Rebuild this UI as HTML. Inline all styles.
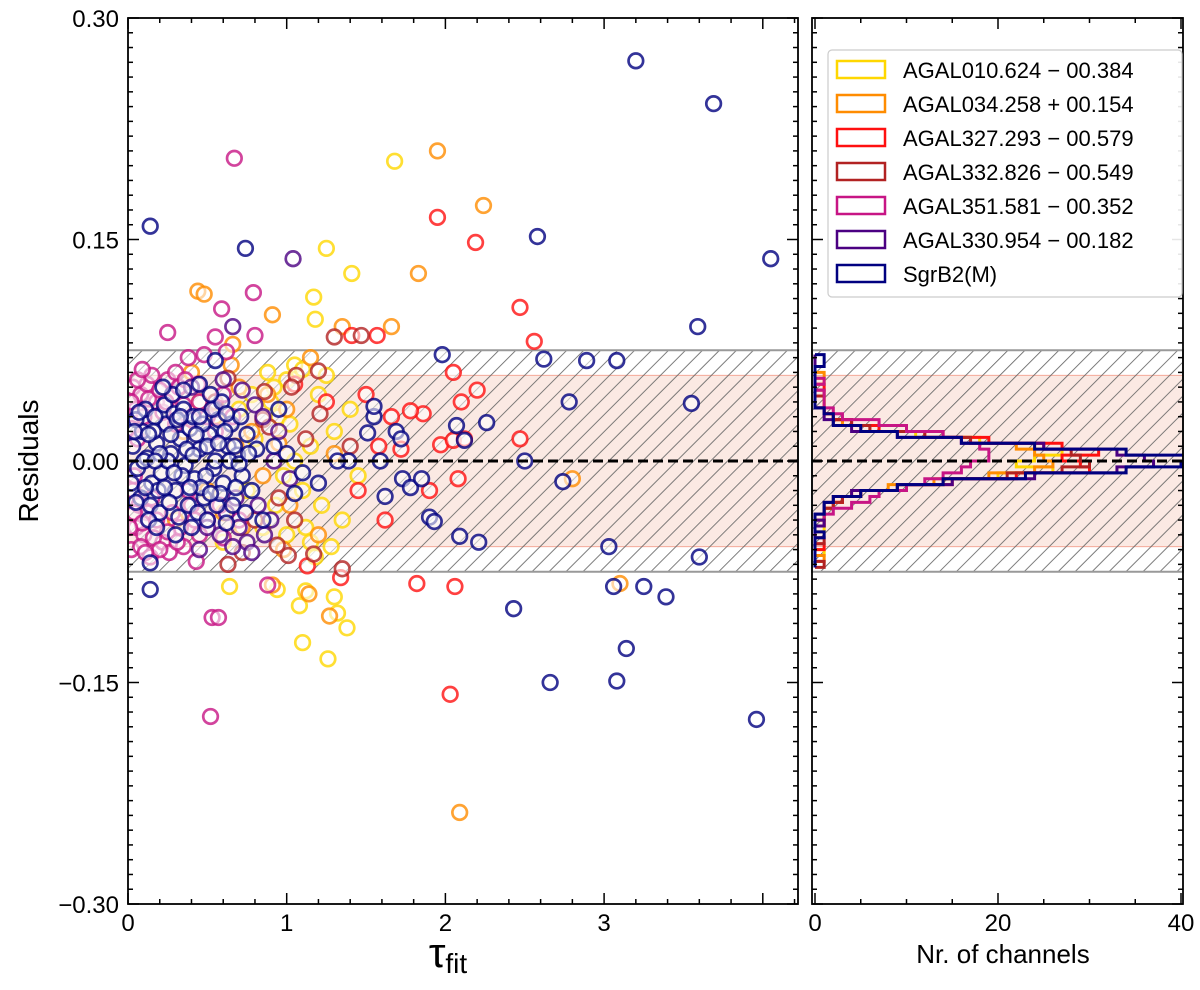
<!DOCTYPE html>
<html><head><meta charset="utf-8">
<style>
html,body{margin:0;padding:0;background:#fff;}
svg{display:block;font-family:"Liberation Sans","DejaVu Sans",sans-serif;}
</style></head>
<body>
<svg id="chart" width="1200" height="990" viewBox="0 0 1200 990">
<defs>
<pattern id="hatch" patternUnits="userSpaceOnUse" width="12" height="12" patternTransform="rotate(45)">
<line x1="0" y1="0" x2="0" y2="12" stroke="#666" stroke-width="1.7"/>
</pattern>
<clipPath id="clipL"><rect x="128" y="18" width="670" height="886"/></clipPath>
<clipPath id="clipR"><rect x="812" y="18" width="371" height="886"/></clipPath>
</defs>
<g id="bands"></g>
<g id="scatter" clip-path="url(#clipL)"></g>
<g id="hist" clip-path="url(#clipR)"></g>
<g id="axes"></g>
</svg>
<script>
const seriesNames = ["AGAL010.624 \u2212 00.384","AGAL034.258 + 00.154","AGAL327.293 \u2212 00.579","AGAL332.826 \u2212 00.549","AGAL351.581 \u2212 00.352","AGAL330.954 \u2212 00.182","SgrB2(M)"];
const seriesColors = ["#ffd700","#ff8c00","#ff1010","#b22222","#c71585","#4b0082","#000080"];
const yTicks = [-0.30,-0.15,0.00,0.15,0.30];
const yTickLabels = ["\u22120.30","\u22120.15","0.00","0.15","0.30"];
const xTicks = [0,1,2,3];
const hTicks = [0,20,40];
const hatchBand = 0.075;
const pinkBand = 0.058;

const yellowPts = [[1.68,0.203],[1.25,0.144],[1.41,0.127],[1.17,0.111],[1.18,0.096],[0.64,-0.085],[1.12,-0.088],[1.30,-0.092],[1.08,-0.098],[1.32,-0.103],[1.38,-0.113],[1.10,-0.123],[1.26,-0.134],[0.94,-0.087],
[1.00,0.055],[1.05,0.065],[1.10,0.062],[0.90,0.040],[0.95,0.030],[1.20,0.045],[1.30,0.020],[1.15,0.010],[1.05,0.000],[0.98,-0.010],[1.10,-0.020],[1.22,-0.030],[0.85,-0.045],[1.00,-0.050],[1.35,-0.040],[1.40,0.035],[0.80,0.015],[0.75,-0.020],[1.28,-0.058],[1.18,-0.065],[0.70,0.035],[1.45,-0.010],[0.60,-0.055],[0.92,0.050],[1.25,0.058],[1.12,-0.045],[0.88,0.060],[1.02,0.025],[0.93,-0.030],[1.15,-0.055],[0.78,0.045]];
const orangePts = [[1.95,0.210],[2.24,0.173],[1.83,0.127],[1.66,0.091],[0.44,0.115],[0.48,0.113],[0.91,0.099],[1.35,0.091],[0.66,0.079],[3.10,-0.083],[2.09,-0.238],[2.80,-0.012],[0.91,-0.084],[1.27,-0.105],[1.14,-0.090],
[0.45,0.040],[0.55,0.030],[0.70,0.050],[0.78,0.020],[0.85,-0.010],[0.95,0.012],[1.02,-0.030],[0.60,-0.035],[0.88,0.045],[1.15,0.070],[0.50,-0.020],[0.72,-0.045],[1.30,0.005],[1.00,0.035],[0.40,0.060],[0.65,0.065],[1.20,-0.050],[0.98,-0.060],[0.35,0.020],[0.30,-0.040],[0.68,0.010]];
const redPts = [[1.95,0.165],[1.41,0.085],[2.19,0.148],[2.47,0.104],[2.56,0.081],[1.57,0.085],[1.82,-0.083],[2.06,-0.085],[2.03,-0.158],[1.34,-0.079],[1.13,-0.071],[2.05,0.060],
[1.86,0.032],[1.66,0.030],[1.97,0.011],[2.05,0.014],[1.72,0.008],[2.47,0.015],[1.78,0.034],[2.08,-0.012],[1.90,-0.020],[2.10,0.040],[1.50,0.045],[1.62,-0.040],[2.20,0.048],[1.25,0.040],[1.05,0.052],[1.45,-0.020],[2.12,0.015],[1.58,0.010]];
const brownPts = [[1.30,0.084],[1.47,0.085],[1.35,-0.073],[0.63,-0.070],[0.63,0.056],[1.20,0.061],[1.06,0.058],[1.03,0.050],[0.86,0.047],[0.85,0.028],[0.89,0.023],[1.21,0.032],[1.17,-0.063],[0.72,-0.062],[1.01,-0.064],[0.94,-0.057],[1.12,0.015],[0.95,-0.025],[0.80,-0.040],[1.40,0.010],[0.55,0.040],[1.05,-0.040]];
const magentaPts = [[0.67,0.205],[0.79,0.114],[0.59,0.103],[0.55,0.084],[0.80,0.085],[0.25,0.087],[0.53,-0.106],[0.57,-0.106],[0.52,-0.173],[0.88,-0.084],[0.43,-0.068],[0.38,0.070],[0.48,0.072],[0.62,0.074],
[0.03,0.050],[0.08,0.045],[0.12,0.052],[0.18,0.040],[0.05,0.035],[0.10,0.030],[0.22,0.033],[0.28,0.045],[0.15,0.058],[0.35,0.038],[0.40,0.028],[0.02,0.022],[0.30,0.025],[0.45,0.040],[0.50,0.030],[0.55,0.020],[0.25,0.055],
[0.03,-0.020],[0.07,-0.030],[0.12,-0.035],[0.05,-0.045],[0.10,-0.050],[0.18,-0.040],[0.22,-0.055],[0.28,-0.035],[0.33,-0.045],[0.15,-0.025],[0.40,-0.030],[0.45,-0.050],[0.02,-0.060],[0.08,-0.058],[0.35,-0.058],[0.50,-0.040],[0.58,-0.030],[0.26,-0.062],[0.14,-0.065],[0.60,-0.052],[0.38,-0.020],[0.30,0.060],[0.60,0.045],[0.66,0.030],[0.70,-0.040],
[0.02,0.040],[0.06,0.055],[0.09,0.062],[0.13,0.042],[0.20,0.048],[0.24,0.040],[0.32,0.050],[0.04,-0.035],[0.09,-0.042],[0.16,-0.052],[0.20,-0.060],[0.25,-0.048],[0.31,-0.055],[0.01,-0.045],[0.11,-0.062],[0.42,-0.040],[0.36,0.055],[0.44,0.052],[0.06,0.015],[0.04,-0.010]];
const purplePts = [[1.04,0.137],[0.66,0.091],[0.72,0.048],[0.80,0.038],[0.85,0.030],[0.55,0.035],[0.62,-0.035],[0.70,-0.045],[0.75,-0.055],[0.58,-0.050],[0.66,-0.058],[0.82,-0.030],[0.90,-0.040],[0.50,-0.045],[0.68,-0.025],[0.95,0.020],[0.45,-0.060],[0.78,-0.062],[1.02,-0.012],[0.60,0.055],[0.40,0.050],[0.86,-0.050],[0.92,0.000]];
const sgrb2Pts = [[3.20,0.271],[3.69,0.242],[4.05,0.137],[2.58,0.152],[0.14,0.159],[3.59,0.091],[0.74,0.144],[3.08,0.068],[2.89,0.068],[2.62,0.069],[1.98,0.072],[2.78,0.040],[2.26,0.026],[3.55,0.039],[2.74,-0.014],[2.50,0.000],[3.03,-0.058],[3.60,-0.065],[2.09,-0.051],[2.21,-0.055],[1.90,-0.038],[1.93,-0.041],[2.43,-0.100],[3.06,-0.085],[3.25,-0.085],[3.39,-0.092],[3.14,-0.127],[2.66,-0.150],[3.08,-0.149],[3.96,-0.175],[0.14,-0.087],[0.14,-0.069],
[1.69,0.020],[1.72,0.015],[1.55,0.030],[1.55,0.037],[1.59,0.000],[1.73,-0.012],[1.78,-0.018],[1.62,-0.024],[1.39,0.000],[1.32,0.000],[1.85,-0.012],[2.12,0.014],[2.07,0.024],[1.51,0.019],[0.55,0.068],[0.45,0.052],[1.10,-0.008],[1.20,-0.015],[1.00,0.005],[0.95,0.035],[1.05,-0.022],[0.85,-0.040],[0.92,0.010],
[0.03,0.010],[0.06,-0.005],[0.09,0.020],[0.12,0.002],[0.15,-0.015],[0.18,0.012],[0.21,-0.008],[0.24,0.025],[0.27,0.005],[0.30,-0.020],[0.33,0.015],[0.36,-0.003],[0.39,0.022],[0.42,-0.012],[0.45,0.008],[0.48,-0.025],[0.51,0.018],[0.54,-0.005],[0.57,0.028],[0.60,-0.015],[0.63,0.010],[0.66,-0.030],[0.69,0.004],[0.72,-0.010],[0.75,0.018],[0.78,-0.020],[0.81,0.008],
[0.05,0.028],[0.08,-0.025],[0.11,0.035],[0.14,-0.030],[0.17,0.030],[0.20,-0.035],[0.23,0.038],[0.26,-0.028],[0.29,0.032],[0.32,-0.038],[0.35,0.035],[0.38,-0.030],[0.41,0.030],[0.44,-0.035],[0.47,0.025],[0.50,-0.040],[0.53,0.035],[0.56,-0.030],[0.59,0.040],[0.62,-0.042],[0.65,0.025],[0.68,-0.018],[0.71,0.030],[0.74,-0.035],
[0.02,-0.015],[0.10,0.000],[0.16,0.020],[0.19,-0.020],[0.25,0.000],[0.31,0.028],[0.37,0.008],[0.43,0.018],[0.49,-0.010],[0.55,0.000],[0.61,0.020],[0.67,0.010],[0.13,-0.040],[0.28,0.045],[0.40,-0.045],[0.52,0.045],[0.35,0.048],[0.22,0.050],[0.30,-0.050],[0.18,-0.045],
[0.04,0.020],[0.07,0.033],[0.13,0.018],[0.20,0.005],[0.23,-0.018],[0.27,0.018],[0.34,-0.010],[0.41,0.004],[0.46,-0.018],[0.50,0.010],[0.58,-0.022],[0.64,0.000],[0.70,-0.002],[0.76,0.005],[0.05,-0.028],[0.11,-0.018],[0.17,0.000],[0.29,-0.008],[0.33,0.030],[0.39,-0.018],[0.45,0.030],[0.52,-0.022],[0.57,0.012],[0.62,0.032]];
const scatterSeries = [yellowPts,orangePts,redPts,brownPts,magentaPts,purplePts,sgrb2Pts];

const binCenters = [0.070,0.066,0.062,0.058,0.054,0.050,0.046,0.042,0.038,0.034,0.030,0.026,0.022,0.018,0.014,0.010,0.006,0.002,-0.002,-0.006,-0.010,-0.014,-0.018,-0.022,-0.026,-0.030,-0.034,-0.038,-0.042,-0.046,-0.050,-0.054,-0.058,-0.062,-0.066,-0.070];
const hYellow  = [0,0,0,0,1,0,0,1,1,1,2,3,7,11,18,24,27,24,22,26,20,14,9,5,2,2,1,1,0,1,0,0,0,1,0,0];
const hOrange  = [0,0,0,1,0,0,0,1,1,1,2,3,6,12,17,22,24,25,26,24,19,13,8,4,3,1,1,1,1,0,0,0,0,0,1,0];
const hRed     = [0,0,0,0,0,1,0,0,0,1,2,4,7,14,19,27,31,27,29,30,22,15,10,5,3,2,1,1,1,0,0,0,1,0,0,0];
const hBrown   = [0,0,0,0,0,0,1,0,0,1,2,4,6,12,17,25,28,29,30,27,21,14,9,5,3,2,1,1,0,0,0,1,0,0,0,1];
const hMagenta = [0,0,0,0,1,0,1,1,1,2,3,7,10,14,16,18,19,19,17,16,14,12,10,7,6,4,2,1,1,0,0,0,0,0,0,0];
const hPurple  = [0,0,0,0,0,0,0,0,0,1,1,2,4,9,16,25,33,36,37,33,24,15,9,4,2,1,1,0,1,0,0,0,0,0,0,0];
const hSgrb2   = [1,1,0,0,0,0,0,0,0,1,2,2,5,9,16,24,34,41,40,34,23,14,9,5,2,1,1,0,0,0,1,0,0,0,0,0];
const histSeries = [hYellow,hOrange,hRed,hBrown,hMagenta,hPurple,hSgrb2];

const NS="http://www.w3.org/2000/svg";
const L={x0:128,x1:798}, R={x0:812,x1:1183}, T=18, B=904;
const yS = v => 461 - v*(886/0.6);
const xS = v => 128 + v*158.7;
const hS = v => 815 + v*9.15;
function mk(tag,attrs,parent){const e=document.createElementNS(NS,tag);for(const k in attrs)e.setAttribute(k,attrs[k]);parent.appendChild(e);return e;}

const bands=document.getElementById('bands');
[[L.x0,L.x1],[R.x0,R.x1]].forEach(([a,b],i)=>{
  let r=mk('rect',{x:a,y:yS(pinkBand),width:b-a,height:yS(-pinkBand)-yS(pinkBand),fill:'#fbe9e3',stroke:'#f4a898','stroke-width':1},bands);
  
  
  let h=mk('rect',{x:a,y:yS(hatchBand),width:b-a,height:yS(-hatchBand)-yS(hatchBand),fill:'url(#hatch)',stroke:'#999','stroke-width':2},bands);
  
  
});

const sc=document.getElementById('scatter');
scatterSeries.forEach((pts,si)=>{
  const g=mk('g',{},sc);
  
  
  pts.forEach(p=>{
    const c=mk('circle',{cx:xS(p[0]),cy:yS(p[1]),r:7.3,fill:'rgba(255,255,255,0.55)',stroke:seriesColors[si],'stroke-width':2.7,'stroke-opacity':0.8},g);
    
    
  });
});

const hg=document.getElementById('hist');
const bw=0.004;
histSeries.forEach((cnt,si)=>{
  let d='M'+hS(0)+','+yS(binCenters[0]+bw/2);
  cnt.forEach((c,i)=>{
    const top=yS(binCenters[i]+bw/2), bot=yS(binCenters[i]-bw/2);
    d+=' L'+hS(c)+','+top+' L'+hS(c)+','+bot;
  });
  d+=' L'+hS(0)+','+yS(binCenters[binCenters.length-1]-bw/2);
  const p=mk('path',{d:d,fill:'none',stroke:seriesColors[si],'stroke-width':3},hg);
  
  
});

const ax=document.getElementById('axes');
[[L.x0,L.x1],[R.x0,R.x1]].forEach(([a,b])=>{
  const z=mk('line',{x1:a,x2:b,y1:yS(0),y2:yS(0),stroke:'#000','stroke-width':3,'stroke-dasharray':'10,5'},ax);
  
  
});
[[L.x0,L.x1],[R.x0,R.x1]].forEach(([a,b],i)=>{
  const f=mk('rect',{x:a,y:T,width:b-a,height:B-T,fill:'none',stroke:'#000','stroke-width':1.8},ax);
  
  
  for(let k=-30;k<=30;k++){
    const v=k/100, y=yS(v), major=(k%15===0), len=major?11:5;
    mk('line',{x1:a,x2:a+len,y1:y,y2:y,stroke:'#000','stroke-width':1.5},ax);
    mk('line',{x1:b,x2:b-len,y1:y,y2:y,stroke:'#000','stroke-width':1.5},ax);
  }
});
yTicks.forEach((v,i)=>{
  const t=mk('text',{x:119,y:yS(v)+9,'text-anchor':'end','font-size':24},ax);
  t.textContent=yTickLabels[i];
  
  
});
for(let k=0;k<=21;k++){const v=k/5,x=xS(v);if(x>L.x1)break;const len=(k%5===0)?11:5;
  mk('line',{x1:x,x2:x,y1:B,y2:B-len,stroke:'#000','stroke-width':1.5},ax);
  mk('line',{x1:x,x2:x,y1:T,y2:T+len,stroke:'#000','stroke-width':1.5},ax);}
xTicks.forEach(v=>{
  const t=mk('text',{x:xS(v),y:931,'text-anchor':'middle','font-size':24},ax);
  t.textContent=String(v);
  
  
});
for(let v=0;v<=40;v+=5){const x=hS(v),len=(v%20===0)?11:5;
  mk('line',{x1:x,x2:x,y1:B,y2:B-len,stroke:'#000','stroke-width':1.5},ax);
  mk('line',{x1:x,x2:x,y1:T,y2:T+len,stroke:'#000','stroke-width':1.5},ax);}
hTicks.forEach(v=>{
  const t=mk('text',{x:hS(v),y:931,'text-anchor':'middle','font-size':24},ax);
  t.textContent=String(v);
  
  
});
const yl=mk('text',{x:0,y:0,transform:'translate(38,461) rotate(-90)','text-anchor':'middle','font-size':28},ax);
yl.textContent='Residuals';


const xl=mk('text',{x:448,y:967,'text-anchor':'middle','font-size':42},ax);
xl.innerHTML='\u03c4<tspan font-size="28" dy="6">fit</tspan>';


const hl=mk('text',{x:1003,y:963,'text-anchor':'middle','font-size':26},ax);
hl.textContent='Nr.  of channels';



const lg=mk('g',{},ax);


mk('rect',{x:828,y:50,width:354,height:247,rx:4,fill:'rgba(255,255,255,0.9)',stroke:'#ccc','stroke-width':1.2},lg);
seriesNames.forEach((n,i)=>{
  const y=70+i*34;
  const e=mk('g',{},lg);
  
  
  mk('rect',{x:837,y:y-9,width:48,height:17,fill:'none',stroke:seriesColors[i],'stroke-width':2.5},e);
  const t=mk('text',{x:903,y:y+8,'font-size':22},e);
  t.textContent=n;
});
</script>
</body></html>
